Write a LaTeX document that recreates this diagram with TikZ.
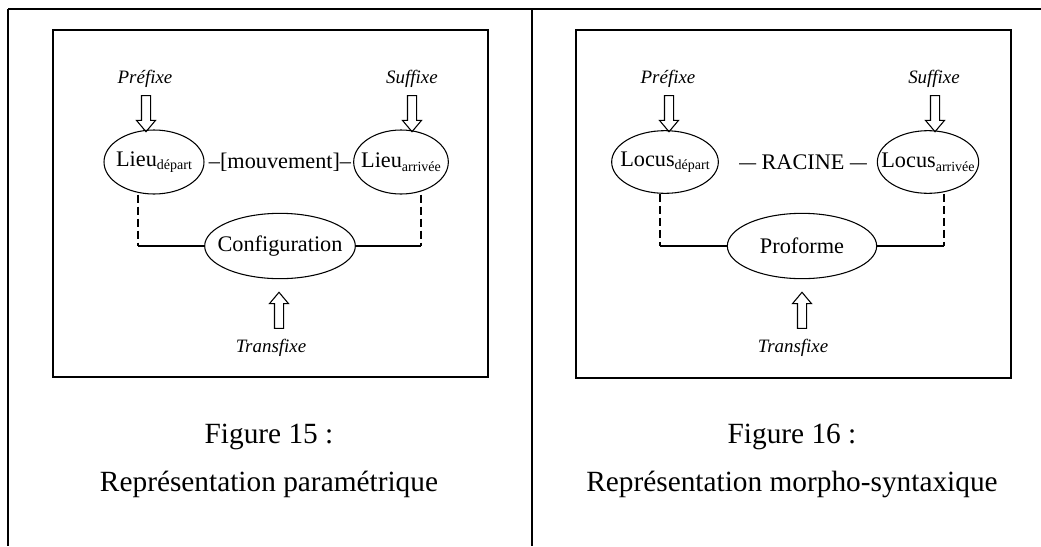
\documentclass[tikz,border=0pt]{standalone}
\usepackage{fontspec}
\usepackage{graphicx}
\setmainfont{Liberation Serif}
\usetikzlibrary{shapes.geometric,shapes.arrows}

\tikzset{
  oval/.style={draw, ellipse, line width=0.8pt, inner sep=0pt, font=\fontsize{16.7}{19}\selectfont},
  affix/.style={font=\fontsize{14.2}{17}\selectfont\itshape},
  plain/.style={font=\fontsize{16.7}{19}\selectfont},
  caption/.style={font=\fontsize{22}{26}\selectfont},
  downarrow/.style={draw, single arrow, shape border rotate=270, line width=0.8pt,
    inner sep=3pt, minimum height=27pt, single arrow head extend=3.75pt,
    single arrow tip angle=80},
  uparrow/.style={downarrow, shape border rotate=90},
  frame/.style={line width=1.2pt},
  rule/.style={line width=1.8pt},
  link/.style={line width=0.8pt},
  dashlink/.style={line width=0.8pt, dash pattern=on 6pt off 3pt}
}
% small lowered index, text kept out of the ellipse size
\newcommand{\lsub}[1]{\raisebox{-0.35ex}{\fontsize{10.5}{13}\selectfont #1}}
\newcommand{\inoval}[1]{\makebox[0pt]{#1}}
\newcommand{\longdash}{\scalebox{1.5}[1]{–}}

\begin{document}
\begin{tikzpicture}[x=0.75pt, y=-0.75pt]
  \useasboundingbox (0,0) rectangle (1041,546);
  % table rules
  \draw [rule] (8,9) -- (1041,9);
  \draw [rule] (8,9) -- (8,546);
  \draw [rule] (532,9) -- (532,546);

  % left figure
  \draw [frame] (53,30) rectangle (488,377);
  \node [affix] (pre1) at (145,79) {Préfixe};
  \node [affix] (suf1) at (412,79) {Suffixe};
  \node [downarrow] (apre1) at (146,111) {};
  \node [downarrow] (asuf1) at (412,111) {};
  \node [oval, minimum width=75pt, minimum height=48pt] (lieuD) at (154,162) {\inoval{Lieu\lsub{départ}}};
  \node [oval, minimum width=71pt, minimum height=48pt] (lieuA) at (401,162) {\inoval{Lieu\lsub{arrivée}}};
  \node [plain] (mvt) at (280,162) {–[mouvement]–};
  \node [oval, minimum width=113pt, minimum height=49pt] (config) at (280,246) {\inoval{Configuration}};
  \node [uparrow] (atrans1) at (279,313) {};
  \node [affix] (trans1) at (271,348) {Transfixe};
  \coordinate (cl1) at (138,246);
  \coordinate (cr1) at (421,246);
  \draw [dashlink] (cl1 |- lieuD.south) -- (cl1);
  \draw [dashlink] (cr1 |- lieuA.south) -- (cr1);
  \draw [link] (cl1) -- (config.west);
  \draw [link] (cr1) -- (config.east);
  \node [caption] (fig1) at (269,437) {Figure 15 :};
  \node [caption] (tit1) at (269,484) {Représentation paramétrique};

  % right figure
  \draw [frame] (576,30) rectangle (1011,378);
  \node [affix] (pre2) at (668,79) {Préfixe};
  \node [affix] (suf2) at (934,79) {Suffixe};
  \node [downarrow] (apre2) at (669,111) {};
  \node [downarrow] (asuf2) at (935,111) {};
  \node [oval, minimum width=80pt, minimum height=47pt] (locD) at (665,162) {\inoval{Locus\lsub{départ}}};
  \node [oval, minimum width=76pt, minimum height=47pt] (locA) at (928,162) {\inoval{Locus\lsub{arrivée}}};
  \node [plain] (racine) at (803,162) {\longdash\ RACINE\ \longdash};
  \node [oval, minimum width=112pt, minimum height=49pt] (profo) at (802,246) {\inoval{Proforme}};
  \node [uparrow] (atrans2) at (802,313) {};
  \node [affix] (trans2) at (793,348) {Transfixe};
  \coordinate (cl2) at (660,246);
  \coordinate (cr2) at (944,246);
  \draw [dashlink] (cl2 |- locD.south) -- (cl2);
  \draw [dashlink] (cr2 |- locA.south) -- (cr2);
  \draw [link] (cl2) -- (profo.west);
  \draw [link] (cr2) -- (profo.east);
  \node [caption] (fig2) at (792,437) {Figure 16 :};
  \node [caption] (tit2) at (792,484) {Représentation morpho-syntaxique};
\end{tikzpicture}
\end{document}
